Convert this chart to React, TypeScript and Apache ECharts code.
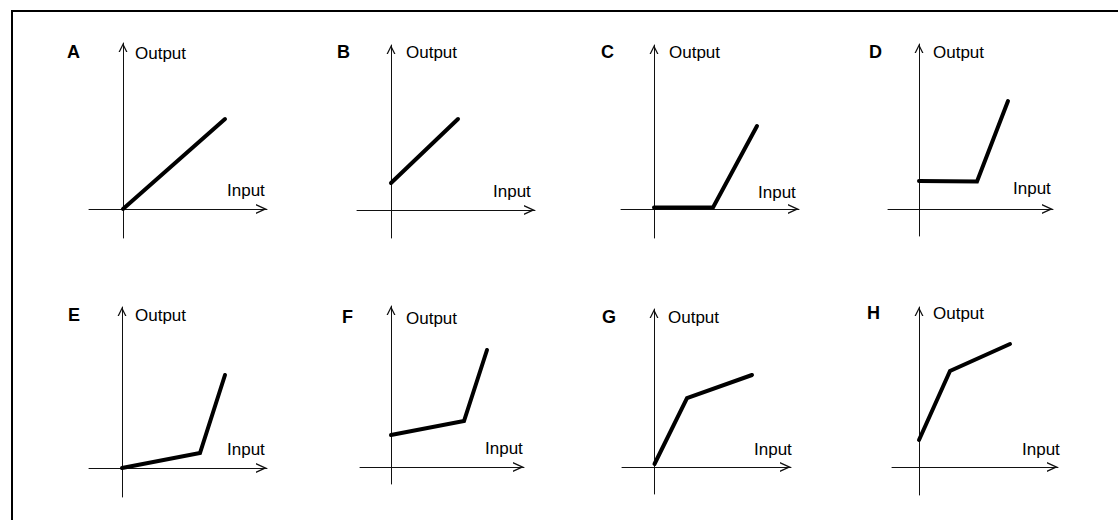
import React, { useEffect, useRef } from "react";
import * as echarts from "echarts";

// ---- data (arbitrary units, origin at axis crossing) ----
const panelLetters = ["A", "B", "C", "D", "E", "F", "G", "H"];
const curveA = [[0, 0], [10.2, 9.0]];
const curveB = [[0, 2.7], [6.7, 9.1]];
const curveC = [[0, 0.15], [5.9, 0.15], [10.3, 8.3]];
const curveD = [[0, 2.8], [5.8, 2.75], [8.9, 10.8]];
const curveE = [[0, 0], [7.8, 1.5], [10.3, 9.3]];
const curveF = [[0, 3.2], [7.3, 4.6], [9.6, 11.7]];
const curveG = [[0.05, 0.3], [3.3, 6.9], [9.8, 9.2]];
const curveH = [[0, 2.7], [3.1, 9.6], [9.1, 12.3]];
const curves = [curveA, curveB, curveC, curveD, curveE, curveF, curveG, curveH];

// axis extents (units)
const xMins = [-3.4, -3.4, -3.3, -3.1, -3.3, -3.1, -3.2, -2.7];
const xMaxs = [14.4, 14.4, 14.5, 13.4, 14.5, 13.3, 13.7, 13.9];
const yMins = [-2.9, -2.8, -2.9, -2.7, -2.9, -1.7, -2.7, -2.8];
const yMaxs = [16.6, 16.5, 16.4, 16.5, 16.1, 16.1, 15.8, 16.0];

const xAxisName = "Input";
const yAxisName = "Output";

// ---- layout ----
const PX = 10; // pixels per unit
const origins = [
  [123, 209], [391, 210], [654, 209], [919, 209],
  [122, 468], [391, 467], [654, 467], [919, 467],
];
const labelPos = [
  [67, 52], [337, 52], [601, 52], [869, 52],
  [68, 315], [342, 317], [602, 317], [867, 313],
];
const outputPos = [
  [135, 53], [406, 52], [669, 52], [933, 52],
  [135, 315], [406, 318], [668, 317], [933, 313],
];
const inputPos = [
  [227, 190], [493, 191], [758, 192], [1013, 188],
  [227, 449], [485, 448], [754, 449], [1022, 449],
];

const FONT = "'Liberation Sans', Arial, Helvetica, sans-serif";
const AXIS_COLOR = "#111";
const chevronX = "path://M0,11 L5,0 L10,11 L8.5,11 L5,3.3 L1.5,11 Z";
const chevronY = "path://M0,9 L4.5,0 L9,9 L7.6,9 L4.5,2.8 L1.4,9 Z";

function buildOption() {
  const grid: any[] = [];
  const xAxis: any[] = [];
  const yAxis: any[] = [];
  const series: any[] = [];
  const graphic: any[] = [
    {
      type: "rect",
      shape: { x: 12, y: 11, width: 1200, height: 600 },
      style: { fill: "none", stroke: "#000", lineWidth: 2 },
      silent: true,
    },
  ];

  panelLetters.forEach((letter, i) => {
    const [ox, oy] = origins[i];
    grid.push({
      left: ox + xMins[i] * PX,
      top: oy - yMaxs[i] * PX,
      width: (xMaxs[i] - xMins[i]) * PX,
      height: (yMaxs[i] - yMins[i]) * PX,
      containLabel: false,
    });
    xAxis.push({
      type: "value",
      gridIndex: i,
      min: xMins[i],
      max: xMaxs[i],
      axisLine: {
        show: true,
        onZero: true,
        lineStyle: { color: AXIS_COLOR, width: 1 },
        symbol: ["none", chevronX],
        symbolSize: [10, 11],
        symbolOffset: [0, -5.5],
      },
      axisTick: { show: false },
      axisLabel: { show: false },
      splitLine: { show: false },
    });
    yAxis.push({
      type: "value",
      gridIndex: i,
      min: yMins[i],
      max: yMaxs[i],
      axisLine: {
        show: true,
        onZero: true,
        lineStyle: { color: AXIS_COLOR, width: 1 },
        symbol: ["none", chevronY],
        symbolSize: [9, 9],
        symbolOffset: [0, -4.5],
      },
      axisTick: { show: false },
      axisLabel: { show: false },
      splitLine: { show: false },
    });
    series.push({
      type: "line",
      xAxisIndex: i,
      yAxisIndex: i,
      data: curves[i],
      showSymbol: false,
      symbol: "none",
      clip: false,
      lineStyle: { color: "#000", width: 4, cap: "round", join: "miter" },
      z: 5,
    });
    graphic.push({
      type: "text",
      x: labelPos[i][0],
      y: labelPos[i][1],
      silent: true,
      style: {
        text: letter,
        fill: "#000",
        fontFamily: FONT,
        fontSize: 18,
        fontWeight: "bold",
        align: "left",
        verticalAlign: "middle",
      },
    });
    graphic.push({
      type: "text",
      x: outputPos[i][0],
      y: outputPos[i][1],
      silent: true,
      style: {
        text: yAxisName,
        fill: "#000",
        fontFamily: FONT,
        fontSize: 17,
        align: "left",
        verticalAlign: "middle",
      },
    });
    graphic.push({
      type: "text",
      x: inputPos[i][0],
      y: inputPos[i][1],
      silent: true,
      style: {
        text: xAxisName,
        fill: "#000",
        fontFamily: FONT,
        fontSize: 17,
        align: "left",
        verticalAlign: "middle",
      },
    });
  });

  return {
    animation: false,
    backgroundColor: "#fff",
    grid,
    xAxis,
    yAxis,
    series,
    graphic,
  };
}

export default function App() {
  const ref = useRef<HTMLDivElement>(null);
  useEffect(() => {
    if (!ref.current) return;
    const chart = echarts.init(ref.current, undefined, { renderer: "svg" });
    chart.setOption(buildOption() as any);
    return () => chart.dispose();
  }, []);
  return (
    <div
      ref={ref}
      style={{ position: "fixed", left: 0, top: 0, width: 1118, height: 520, background: "#fff" }}
    />
  );
}
